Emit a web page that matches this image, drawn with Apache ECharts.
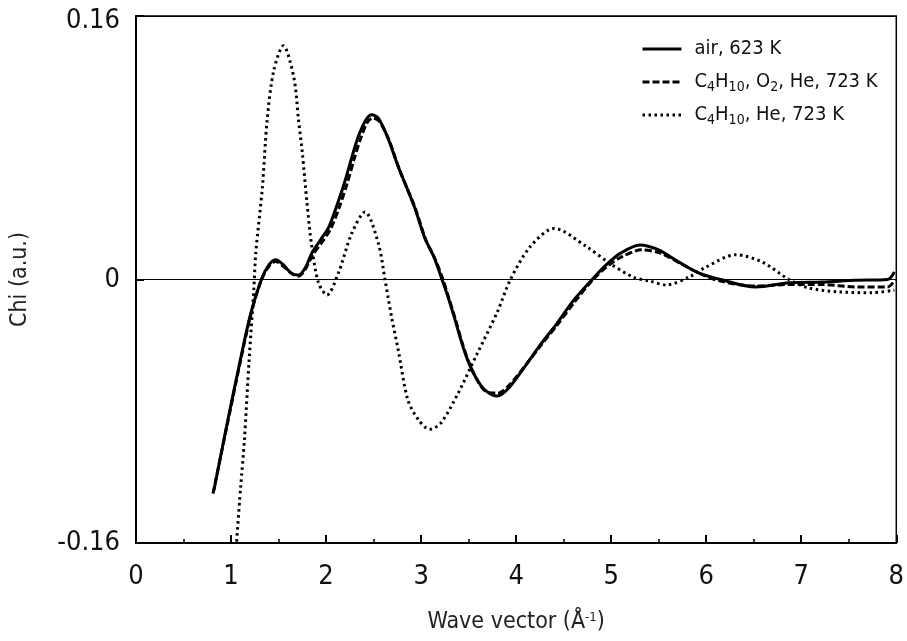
<!DOCTYPE html>
<html>
<head>
<meta charset="utf-8">
<script src="https://cdn.jsdelivr.net/npm/echarts@6/dist/echarts.min.js"></script>
<style>
  html, body { margin: 0; padding: 0; background: #fff; }
  #chart { width: 907px; height: 641px; }
</style>
</head>
<body>
<div id="chart"></div>
<script>
// EXAFS chi(k) for three treatment conditions
const FONT = '"Liberation Sans Narrow", "Arial Narrow", "DejaVu Sans Condensed", sans-serif';

const seriesNames = ['air, 623 K', 'C4H10, O2, He, 723 K', 'C4H10, He, 723 K'];
const legendLabels = ['air, 623 K', 'C{sub|4}H{sub|10}, O{sub|2}, He, 723 K', 'C{sub|4}H{sub|10}, He, 723 K'];

const xTicks = [0, 1, 2, 3, 4, 5, 6, 7, 8];
const yTicks = [-0.16, 0, 0.16];

// air, 623 K
const airK   = [0.82, 0.95, 1.09, 1.21, 1.32, 1.40, 1.47, 1.55, 1.63, 1.71, 1.78, 1.85, 1.94, 2.03, 2.12, 2.20, 2.28, 2.34, 2.42, 2.48, 2.55, 2.65, 2.76, 2.93, 3.04, 3.14, 3.22, 3.28, 3.35, 3.42, 3.49, 3.58, 3.67, 3.80, 3.92, 4.09, 4.25, 4.43, 4.60, 4.80, 4.95, 5.10, 5.30, 5.50, 5.70, 5.92, 6.15, 6.52, 6.87, 7.22, 7.57, 7.91, 7.98];
const airChi = [-0.128, -0.090, -0.051, -0.020, 0.000, 0.009, 0.012, 0.009, 0.004, 0.0027, 0.007, 0.016, 0.024, 0.032, 0.046, 0.060, 0.076, 0.087, 0.097, 0.100, 0.098, 0.086, 0.0685, 0.044, 0.025, 0.013, 0.000, -0.010, -0.023, -0.037, -0.049, -0.060, -0.067, -0.0708, -0.066, -0.053, -0.040, -0.0266, -0.013, 0.000, 0.009, 0.016, 0.021, 0.018, 0.011, 0.004, 0.000, -0.0045, -0.002, -0.0015, -0.0005, 0.000, 0.0045];

// C4H10, O2, He, 723 K
const mixK   = [0.81, 0.95, 1.09, 1.21, 1.32, 1.40, 1.47, 1.55, 1.63, 1.71, 1.78, 1.86, 1.95, 2.05, 2.14, 2.22, 2.30, 2.36, 2.43, 2.49, 2.56, 2.66, 2.77, 2.94, 3.05, 3.15, 3.23, 3.29, 3.36, 3.43, 3.50, 3.59, 3.68, 3.81, 3.93, 4.10, 4.26, 4.44, 4.61, 4.81, 4.96, 5.12, 5.32, 5.52, 5.72, 5.92, 6.15, 6.52, 6.87, 7.22, 7.57, 7.91, 7.99];
const mixChi = [-0.130, -0.091, -0.052, -0.021, 0.000, 0.008, 0.011, 0.008, 0.004, 0.002, 0.006, 0.015, 0.022, 0.031, 0.044, 0.058, 0.074, 0.085, 0.095, 0.098, 0.096, 0.085, 0.067, 0.043, 0.024, 0.012, 0.000, -0.011, -0.024, -0.038, -0.050, -0.061, -0.068, -0.069, -0.064, -0.052, -0.040, -0.027, -0.014, 0.000, 0.008, 0.014, 0.018, 0.016, 0.010, 0.004, -0.001, -0.004, -0.003, -0.003, -0.0045, -0.0045, 0.000];

// C4H10, He, 723 K
const redK   = [1.045, 1.10, 1.14, 1.19, 1.24, 1.26, 1.33, 1.38, 1.45, 1.55, 1.66, 1.71, 1.75, 1.80, 1.85, 1.92, 2.01, 2.13, 2.27, 2.41, 2.55, 2.62, 2.69, 2.76, 2.86, 2.97, 3.09, 3.21, 3.39, 3.59, 3.80, 3.94, 4.15, 4.40, 4.74, 4.98, 5.23, 5.41, 5.58, 5.82, 6.00, 6.31, 6.59, 6.87, 7.07, 7.39, 7.74, 7.98];
const redChi = [-0.170, -0.127, -0.098, -0.049, -0.006, 0.016, 0.056, 0.097, 0.127, 0.142, 0.123, 0.097, 0.077, 0.046, 0.020, -0.002, -0.0094, 0.004, 0.028, 0.041, 0.022, 0.000, -0.023, -0.043, -0.073, -0.085, -0.091, -0.087, -0.069, -0.045, -0.020, 0.000, 0.020, 0.031, 0.020, 0.010, 0.0015, -0.001, -0.0033, 0.0015, 0.0076, 0.015, 0.0106, 0.000, -0.005, -0.0075, -0.008, -0.0065];

const pairs = (xs, ys) => xs.map((x, i) => [x, ys[i]]);

const chart = echarts.init(document.getElementById('chart'), null, { renderer: 'canvas' });

const baseLine = { symbol: 'none', smooth: 0.3, clip: true, silent: true };

chart.setOption({
  animation: false,
  backgroundColor: '#ffffff',
  textStyle: { fontFamily: FONT },
  grid: {
    left: 136, right: 5, top: 16, bottom: 98,
    show: true, borderColor: '#000', borderWidth: 1.5, backgroundColor: 'transparent'
  },
  legend: {
    left: 641, top: 37, orient: 'vertical', padding: 0,
    itemWidth: 39, itemHeight: 14, itemGap: 9,
    data: seriesNames,
    formatter: name => legendLabels[seriesNames.indexOf(name)],
    // line sample only, no marker on it
    itemStyle: { color: 'transparent', borderColor: 'transparent', borderWidth: 0 },
    lineStyle: { width: 3 },
    textStyle: {
      fontFamily: FONT, fontSize: 20, color: '#111', lineHeight: 24,
      padding: [0, 0, 0, 8],
      rich: {
        sub: { fontFamily: FONT, fontSize: 14, lineHeight: 14, verticalAlign: 'bottom', color: '#111' }
      }
    }
  },
  xAxis: {
    type: 'value', min: 0, max: 8, interval: 1,
    axisLine: { onZero: false, lineStyle: { color: '#000', width: 2 } },
    axisTick: { inside: true, length: 8, lineStyle: { color: '#000', width: 2 } },
    minorTick: { show: true, splitNumber: 2, length: 4, lineStyle: { color: '#000', width: 1.5 } },
    splitLine: { show: false },
    axisLabel: {
      fontFamily: FONT, fontSize: 27, color: '#111', margin: 20,
      formatter: v => xTicks.includes(v) ? String(v) : ''
    },
    name: 'Wave vector (Å{sup|-1})',
    nameLocation: 'middle', nameGap: 68,
    nameTextStyle: {
      fontFamily: FONT, fontSize: 23, color: '#222',
      rich: { sup: { fontFamily: FONT, fontSize: 13, verticalAlign: 'top', color: '#222' } }
    }
  },
  yAxis: {
    type: 'value', min: -0.16, max: 0.16, interval: 0.16,
    axisLine: { lineStyle: { color: '#000', width: 2 } },
    axisTick: { inside: true, length: 8, lineStyle: { color: '#000', width: 2 } },
    splitLine: { show: true, lineStyle: { color: '#000', width: 1 } },
    axisLabel: {
      fontFamily: FONT, fontSize: 27, color: '#111', margin: 16,
      formatter: v => {
        const t = yTicks.find(y => Math.abs(y - v) < 1e-9);
        if (t === undefined) return '';
        if (t === 0) return '0';
        return t > 0 ? '{top|' + t + '}' : String(t);
      },
      rich: { top: { fontFamily: FONT, fontSize: 27, color: '#111', padding: [10, 0, 0, 0] } }
    },
    name: 'Chi (a.u.)',
    nameLocation: 'middle', nameGap: 104, nameRotate: 90,
    nameTextStyle: { fontFamily: FONT, fontSize: 23, color: '#222' }
  },
  series: [
    Object.assign({}, baseLine, {
      name: seriesNames[0], type: 'line', data: pairs(airK, airChi),
      lineStyle: { color: '#000', width: 3, type: 'solid' }, itemStyle: { color: '#000' }
    }),
    Object.assign({}, baseLine, {
      name: seriesNames[1], type: 'line', data: pairs(mixK, mixChi),
      lineStyle: { color: '#000', width: 3, type: [7, 3] }, itemStyle: { color: '#000' }
    }),
    Object.assign({}, baseLine, {
      name: seriesNames[2], type: 'line', data: pairs(redK, redChi),
      lineStyle: { color: '#000', width: 3, type: [2.5, 3.5] }, itemStyle: { color: '#000' }
    })
  ]
});
</script>
</body>
</html>
